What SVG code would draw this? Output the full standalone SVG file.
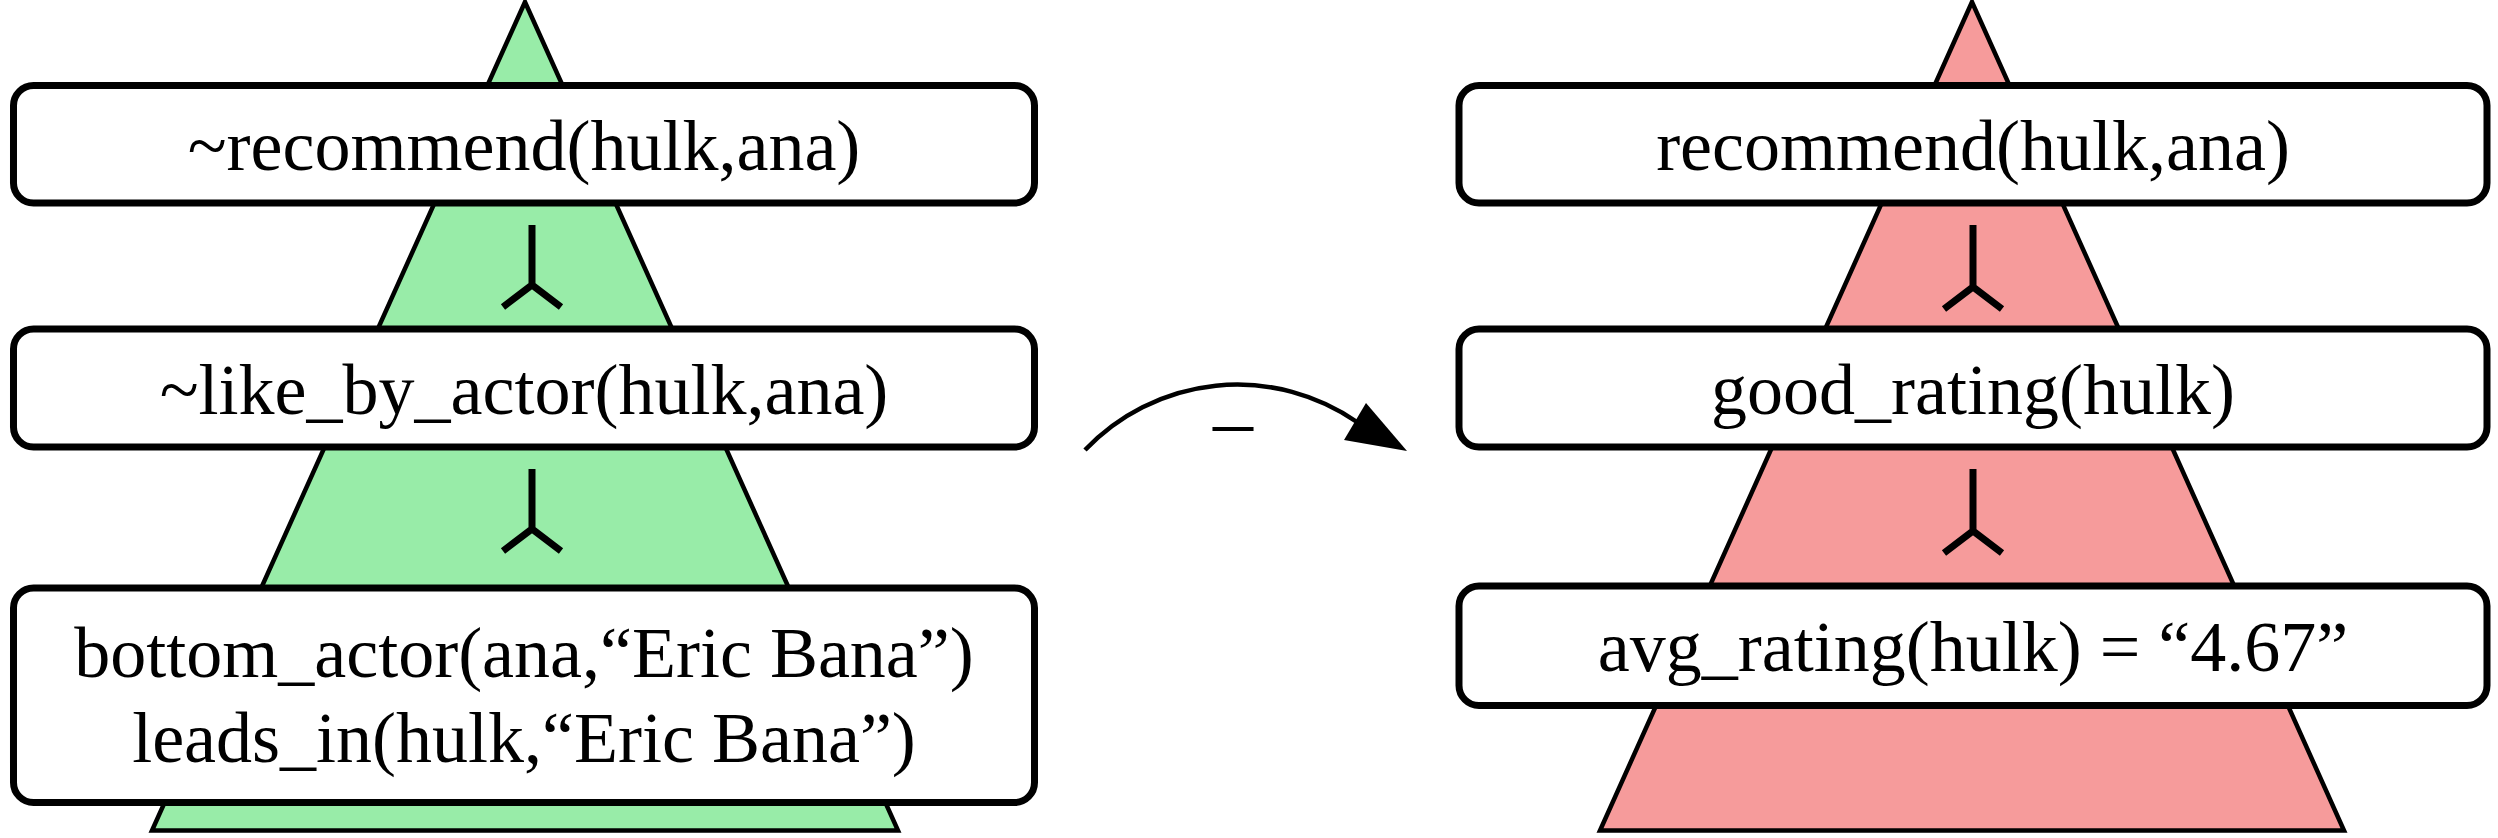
<svg xmlns="http://www.w3.org/2000/svg" width="2498" height="838" viewBox="0 0 2498 838">
<style>
.tri{stroke:#000;stroke-width:4.5;stroke-linejoin:miter}
.green{fill:#98eca8}
.pink{fill:#f69b9b}
.box{fill:#fff;stroke:#000;stroke-width:7}
.lbl{font-family:"Liberation Serif","Times New Roman",serif;font-size:72px;fill:#000;text-anchor:middle}
.fork{fill:none;stroke:#000;stroke-width:7;stroke-linecap:butt;stroke-linejoin:miter}
.arc{fill:none;stroke:#000;stroke-width:4.5}
</style>
<rect x="0" y="0" width="2498" height="838" fill="#fff"/>
<g id="tree-left">
<polygon class="tri green" points="525,2 152,830.5 898,830.5"/>
</g>
<g id="tree-right">
<polygon class="tri pink" points="1972,2 1600,830.5 2344,830.5"/>
</g>
<g id="connectors">
<path class="fork" d="M532,225 V285 M503,307 L532,285 L561,307"/>
<path class="fork" d="M532,469 V529 M503,551 L532,529 L561,551"/>
<path class="fork" d="M1973,225 V287 M1944,309 L1973,287 L2002,309"/>
<path class="fork" d="M1973,469 V531 M1944,553 L1973,531 L2002,553"/>
<path class="arc" d="M1085,450 A210,210 0 0,1 1357,422"/>
<polygon points="1407,451 1366,403 1344,440" fill="#000"/>
<text class="lbl" x="1233" y="448" style="font-size:80px">–</text>
</g>
<g id="n-left-1">
<rect class="box" x="13.5" y="85.5" width="1021" height="117.5" rx="20"/>
<text class="lbl" x="524" y="170">~recommend(hulk,ana)</text>
</g>
<g id="n-left-2">
<rect class="box" x="13.5" y="329" width="1021" height="118" rx="20"/>
<text class="lbl" x="524" y="414">~like_by_actor(hulk,ana)</text>
</g>
<g id="n-left-3">
<rect class="box" x="13.5" y="588" width="1021" height="214.5" rx="20"/>
<text class="lbl" x="524" y="677">bottom_actor(ana,“Eric Bana”)</text>
<text class="lbl" x="524" y="762">leads_in(hulk,“Eric Bana”)</text>
</g>
<g id="n-right-1">
<rect class="box" x="1459" y="85.5" width="1028" height="117.5" rx="20"/>
<text class="lbl" x="1973" y="170">recommend(hulk,ana)</text>
</g>
<g id="n-right-2">
<rect class="box" x="1459" y="329" width="1028" height="118" rx="20"/>
<text class="lbl" x="1973" y="414">good_rating(hulk)</text>
</g>
<g id="n-right-3">
<rect class="box" x="1459" y="586" width="1028" height="119.5" rx="20"/>
<text class="lbl" x="1973" y="671">avg_rating(hulk) = “4.67”</text>
</g>
</svg>
